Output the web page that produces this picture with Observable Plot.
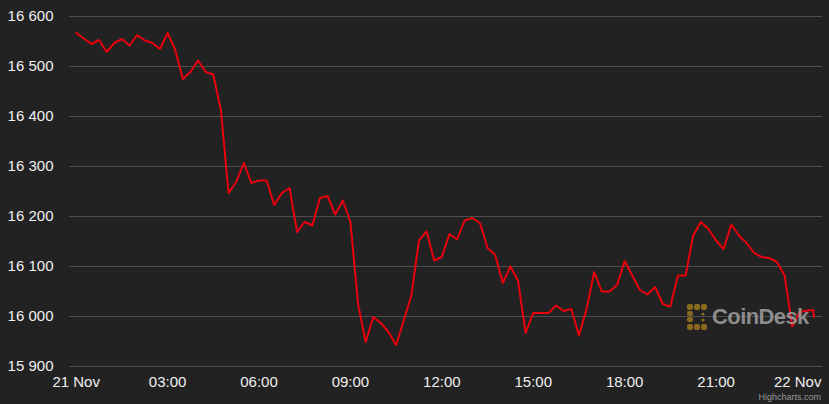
<!DOCTYPE html>
<html>
<head>
<meta charset="utf-8">
<script src="https://cdn.jsdelivr.net/npm/d3@7"></script>
<script src="https://cdn.jsdelivr.net/npm/@observablehq/plot@0.6"></script>
<style>
  html, body { margin: 0; padding: 0; background: #222222; }
  #wrap { position: relative; width: 829px; height: 404px; overflow: hidden; background: #222222; }
  #wm { position: absolute; left: 687px; top: 304px; display: flex; align-items: center; pointer-events: none; }
  #wm span { font-family: "Liberation Sans", Arial, sans-serif; font-weight: bold; font-size: 22px; letter-spacing: -0.6px; color: rgba(160,160,160,0.85); margin-left: 4px; }
  #credit { position: absolute; right: 8px; top: 392px; font-family: "Liberation Sans", Arial, sans-serif; font-size: 9px; color: #9a9a9a; }
</style>
</head>
<body>
<div id="wrap">
  <div id="chart"></div>
  <div id="wm">
    <svg width="21" height="26" viewBox="0 0 21 26">
      <g fill="#8a6a1e">
        <rect x="0" y="0" width="6" height="6" rx="2"/>
        <rect x="7" y="0" width="6" height="6" rx="2"/>
        <rect x="14" y="0" width="6" height="6" rx="2"/>
        <rect x="0" y="7" width="6" height="5" rx="2"/>
        <rect x="0" y="13" width="6" height="5" rx="2"/>
        <rect x="0" y="20" width="6" height="6" rx="2"/>
        <rect x="7" y="20" width="6" height="6" rx="2"/>
        <rect x="14" y="20" width="6" height="6" rx="2"/>
        <circle cx="16" cy="10" r="1.6"/>
        <circle cx="16" cy="16" r="1.6"/>
      </g>
    </svg>
    <span>CoinDesk</span>
  </div>
  <div id="credit">Highcharts.com</div>
</div>
<script>
// ---- data (BTC price, 15‑minute samples, 21 Nov 2022) ----
const seriesStart = "2022-11-21T00:00:00Z";
const stepMinutes = 15;
const prices = [
  16567, 16556, 16545, 16553, 16529, 16547, 16555, 16542, 16563, 16552,
  16547, 16535, 16567, 16533, 16475, 16489, 16512, 16489, 16484, 16412,
  16247, 16269, 16307, 16267, 16272, 16272, 16223, 16247, 16257, 16169,
  16189, 16182, 16237, 16241, 16204, 16232, 16189, 16025, 15949, 15999,
  15987, 15969, 15943, 15992, 16042, 16152, 16170, 16112, 16119, 16165,
  16154, 16192, 16197, 16187, 16137, 16123, 16067, 16100, 16072, 15967,
  16007, 16007, 16007, 16022, 16011, 16015, 15962, 16015, 16089, 16050,
  16050, 16063, 16111, 16082, 16053, 16044, 16059, 16025, 16020, 16082,
  16082, 16162, 16189, 16175, 16152, 16135, 16184, 16162, 16147, 16127,
  16119, 16117, 16109, 16082, 15980, 16009, 16012
];
const tailTimes = ["2022-11-22T00:11:00Z", "2022-11-22T00:13:00Z"];
const tailPrices = [16013, 15999];

const yTicks = [15900, 16000, 16100, 16200, 16300, 16400, 16500, 16600];
const xTickLabels = ["21 Nov", "03:00", "06:00", "09:00", "12:00", "15:00", "18:00", "21:00", "22 Nov"];
const xTickTimes = ["2022-11-21T00:00Z", "2022-11-21T03:00Z", "2022-11-21T06:00Z", "2022-11-21T09:00Z",
  "2022-11-21T12:00Z", "2022-11-21T15:00Z", "2022-11-21T18:00Z", "2022-11-21T21:00Z", "2022-11-22T00:00Z"];
const xDomain = ["2022-11-20T23:46:48Z", "2022-11-22T00:29:36Z"];

// ---- build table ----
const t0 = new Date(seriesStart).getTime();
const data = prices.map((p, i) => ({ time: new Date(t0 + i * stepMinutes * 60000), price: p }))
  .concat(tailTimes.map((t, i) => ({ time: new Date(t), price: tailPrices[i] })));

const tickDates = xTickTimes.map(t => new Date(t));
const labelFor = new Map(tickDates.map((d, i) => [+d, xTickLabels[i]]));
const yFmt = v => d3.format(",")(v).replace(/,/g, " ");

const chart = Plot.plot({
  width: 829,
  height: 404,
  marginLeft: 69,
  marginRight: 7,
  marginTop: 16,
  marginBottom: 38,
  style: {
    background: "#222222",
    color: "#f0f0f0",
    fontFamily: "'Liberation Sans', Arial, sans-serif",
    fontSize: "15px",
    overflow: "visible"
  },
  x: {
    type: "utc",
    domain: xDomain.map(t => new Date(t)),
    ticks: tickDates,
    tickFormat: d => labelFor.get(+d),
    tickSize: 0,
    tickPadding: 10,
    label: null
  },
  y: {
    domain: [15900, 16600],
    ticks: yTicks,
    tickFormat: yFmt,
    tickSize: 0,
    tickPadding: 16,
    label: null
  },
  marks: [
    Plot.ruleY(yTicks, { stroke: "#4e4e4e", strokeWidth: 1 }),
    Plot.line(data, { x: "time", y: "price", stroke: "#e8000d", strokeWidth: 2, strokeLinejoin: "round" })
  ]
});

document.getElementById("chart").appendChild(chart);

// Highcharts pushes the last x label inside the chart area
d3.select(chart).selectAll("text").each(function () {
  if (this.textContent === "22 Nov") {
    d3.select(this).attr("text-anchor", "end").attr("dx", 14);
  }
});
</script>
</body>
</html>
